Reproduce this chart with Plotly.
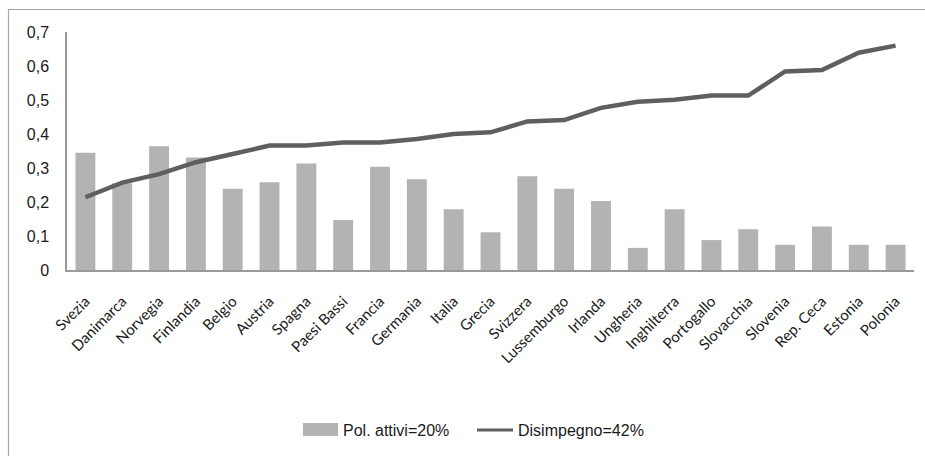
import plotly.graph_objects as go

# Countries, ordered by disengagement share
paesi = ["Svezia", "Danimarca", "Norvegia", "Finlandia", "Belgio", "Austria",
         "Spagna", "Paesi Bassi", "Francia", "Germania", "Italia", "Grecia",
         "Svizzera", "Lussemburgo", "Irlanda", "Ungheria", "Inghilterra",
         "Portogallo", "Slovacchia", "Slovenia", "Rep. Ceca", "Estonia", "Polonia"]

# Share of politically active citizens
pol_attivi = [0.345, 0.255, 0.364, 0.331, 0.239, 0.258, 0.313, 0.147, 0.304,
              0.267, 0.179, 0.111, 0.276, 0.239, 0.203, 0.065, 0.179, 0.088,
              0.120, 0.074, 0.128, 0.074, 0.074]

# Share of disengaged citizens
disimpegno = [0.214, 0.257, 0.282, 0.317, 0.341, 0.366, 0.366, 0.375, 0.375,
              0.385, 0.400, 0.405, 0.437, 0.441, 0.477, 0.495, 0.501, 0.513,
              0.513, 0.584, 0.588, 0.639, 0.660]

y_ticks = [0, 0.1, 0.2, 0.3, 0.4, 0.5, 0.6, 0.7]
y_tick_text = ["0", "0,1", "0,2", "0,3", "0,4", "0,5", "0,6", "0,7"]

legend_labels = ["Pol. attivi=20%", "Disimpegno=42%"]

BAR_COLOR = "#b3b3b3"
LINE_COLOR = "#5f5f5f"
AXIS_COLOR = "#9a9a9a"

W, H = 925, 456
L, R, T, B = 67, 11, 32, 186
pw, ph = W - L - R, H - T - B


def px_x(x):
    return (x - L) / pw


def px_y(y):
    return (H - B - y) / ph


fig = go.Figure()
fig.add_trace(go.Bar(x=paesi, y=pol_attivi, name=legend_labels[0],
                     marker=dict(color=BAR_COLOR, line=dict(width=0))))
fig.add_trace(go.Scatter(x=paesi, y=disimpegno, name=legend_labels[1],
                         mode="lines",
                         line=dict(color=LINE_COLOR, width=4.5)))

shapes = [
    # outer chart frame
    dict(type="rect", xref="paper", yref="paper",
         x0=px_x(8.5), x1=px_x(935), y0=px_y(9.5), y1=px_y(470),
         line=dict(color="#a6a6a6", width=1.2), fillcolor="rgba(0,0,0,0)"),
    # legend swatches
    dict(type="rect", xref="paper", yref="paper",
         x0=px_x(303), x1=px_x(338), y0=px_y(423), y1=px_y(436),
         line=dict(width=0), fillcolor=BAR_COLOR),
    dict(type="line", xref="paper", yref="paper",
         x0=px_x(477), x1=px_x(513), y0=px_y(430), y1=px_y(430),
         line=dict(color=LINE_COLOR, width=3)),
]

legend_font = dict(family="Liberation Sans Narrow, Arial Narrow, Liberation Sans",
                   size=16, color="#1a1a1a")
annotations = [
    dict(xref="paper", yref="paper", x=px_x(341), y=px_y(430),
         xanchor="left", yanchor="middle", text=legend_labels[0],
         showarrow=False, font=legend_font),
    dict(xref="paper", yref="paper", x=px_x(516), y=px_y(430),
         xanchor="left", yanchor="middle", text=legend_labels[1],
         showarrow=False, font=legend_font),
]

fig.update_layout(
    width=W, height=H,
    margin=dict(l=L, r=R, t=T, b=B, pad=0),
    paper_bgcolor="white", plot_bgcolor="white",
    showlegend=False,
    bargap=0.46,
    shapes=shapes,
    annotations=annotations,
    xaxis=dict(
        type="category",
        showgrid=False, zeroline=False,
        showline=True, linecolor=AXIS_COLOR, linewidth=1.5,
        ticks="", tickangle=-45,
        ticklabelstandoff=15,
        tickfont=dict(family="Lato, Open Sans, sans-serif", size=15, color="#1a1a1a"),
    ),
    yaxis=dict(
        range=[0, 0.7],
        tickvals=y_ticks, ticktext=y_tick_text,
        showgrid=False, zeroline=False,
        showline=True, linecolor=AXIS_COLOR, linewidth=1.5,
        ticks="", ticklabelstandoff=13,
        tickfont=dict(family="Liberation Sans, Arial, sans-serif", size=16, color="#1a1a1a"),
    ),
)

fig.write_html("out.html")
